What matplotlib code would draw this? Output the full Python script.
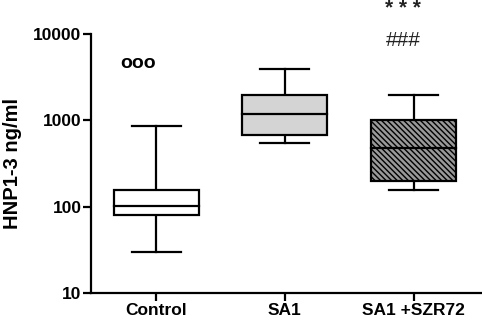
import matplotlib
matplotlib.use("Agg")
import matplotlib.pyplot as plt
from matplotlib.patches import Rectangle

plt.rcParams['font.family'] = ['Liberation Sans', 'DejaVu Sans']
plt.rcParams['hatch.linewidth'] = 1.0

categories = ["Control", "SA1", "SA1 +SZR72"]
whisker_low = [30, 550, 158]
q1 = [80, 680, 200]
median = [102, 1180, 480]
q3 = [157, 1950, 1000]
whisker_high = [870, 3950, 1950]
outlier_label = "ooo"
outlier_value = 4600
sig_labels = ["* * *", "###"]
sig_values = [20000, 8400]

fills = ["white", "#d4d4d4", "#999999"]
hatches = [None, None, "\\" * 6]

fig = plt.figure(figsize=(4.82, 3.21), dpi=100)
ax = fig.add_axes([0.189, 0.0872, 0.811, 0.8069])
ax.set_yscale('log')
ax.set_ylim(10, 10000)
ax.set_xlim(0.496, 3.53)

w = 0.66
cap = 0.38
lw = 1.6
for i, cat in enumerate(categories):
    x = i + 1
    ax.plot([x, x], [whisker_low[i], q1[i]], color='black', lw=lw, zorder=2)
    ax.plot([x, x], [q3[i], whisker_high[i]], color='black', lw=lw, zorder=2)
    ax.plot([x - cap / 2, x + cap / 2], [whisker_low[i]] * 2, color='black', lw=lw, zorder=2)
    ax.plot([x - cap / 2, x + cap / 2], [whisker_high[i]] * 2, color='black', lw=lw, zorder=2)
    r = Rectangle((x - w / 2, q1[i]), w, q3[i] - q1[i], facecolor=fills[i],
                  edgecolor='black', lw=lw, hatch=hatches[i], zorder=3)
    ax.add_patch(r)
    ax.plot([x - w / 2, x + w / 2], [median[i]] * 2, color='black', lw=lw, zorder=4)

ax.text(0.86, outlier_value, outlier_label, ha='center', va='center', fontsize=14,
        fontweight='bold', clip_on=False)
ax.text(2.92, sig_values[0], sig_labels[0], ha='center', va='center', fontsize=15,
        fontweight='bold', clip_on=False, color='#222222')
ax.text(2.92, sig_values[1], sig_labels[1], ha='center', va='center', fontsize=15,
        clip_on=False, color='#222222')

ax.set_xticks([1, 2, 3])
ax.set_xticklabels(categories, fontsize=12.5, fontweight='bold')
ax.set_yticks([10, 100, 1000, 10000])
ax.set_yticklabels(["10", "100", "1000", "10000"], fontsize=12.5, fontweight='bold')
ax.yaxis.set_minor_locator(matplotlib.ticker.NullLocator())
ax.tick_params(axis='both', which='major', direction='out', length=6, width=1.6, pad=1)
ax.set_ylabel("HNP1-3 ng/ml", fontsize=14.5, fontweight='bold')
ax.yaxis.set_label_coords(-0.176, 0.5)

for s in ['top', 'right']:
    ax.spines[s].set_visible(False)
for s in ['left', 'bottom']:
    ax.spines[s].set_linewidth(1.6)

fig.savefig("out.png", dpi=100)
